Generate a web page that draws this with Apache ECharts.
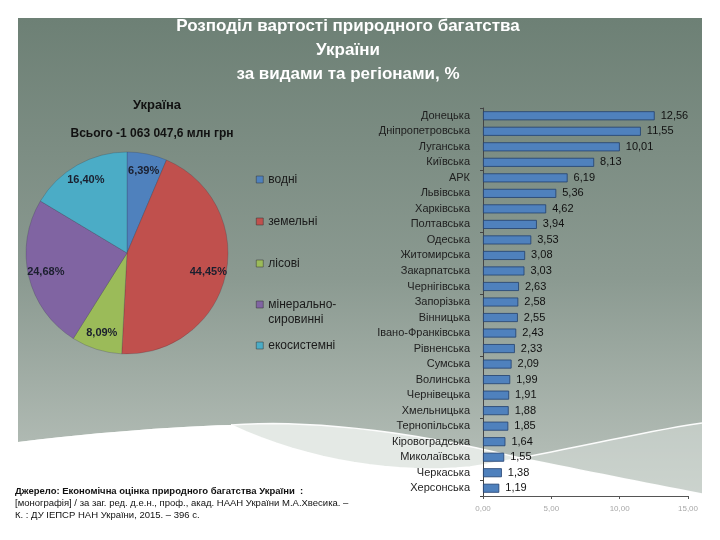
<!DOCTYPE html>
<html>
<head>
<meta charset="utf-8">
<script src="https://cdn.jsdelivr.net/npm/echarts@6/dist/echarts.min.js"></script>
<style>html,body{margin:0;padding:0;background:#fff}#c{width:720px;height:540px}</style>
</head>
<body>
<div id="c"></div>
<script>
// ---- data ----
const pieNames = ['водні', 'земельні', 'лісові', 'мінерально-сировинні', 'екосистемні'];
const pieValues = [6.39, 44.45, 8.09, 24.68, 16.40];
const pieColors = ['#4f81bd', '#c0504d', '#9bbb59', '#8064a2', '#4bacc6'];

const regions = ['Донецька', 'Дніпропетровська', 'Луганська', 'Київська', 'АРК', 'Львівська', 'Харківська',
  'Полтавська', 'Одеська', 'Житомирська', 'Закарпатська', 'Чернігівська', 'Запорізька', 'Вінницька',
  'Івано-Франківська', 'Рівненська', 'Сумська', 'Волинська', 'Чернівецька', 'Хмельницька',
  'Тернопільська', 'Кіровоградська', 'Миколаївська', 'Черкаська', 'Херсонська'];
const regionValues = [12.56, 11.55, 10.01, 8.13, 6.19, 5.36, 4.62, 3.94, 3.53, 3.08, 3.03, 2.63, 2.58,
  2.55, 2.43, 2.33, 2.09, 1.99, 1.91, 1.88, 1.85, 1.64, 1.55, 1.38, 1.19];
const xTicks = [0, 5, 10, 15];

const titleText = 'Розподіл вартості природного багатства\nУкраїни\nза видами та регіонами, %';
const pieTitle = 'Україна';
const pieSubtitle = 'Всього -1 063 047,6 млн грн';
const sourceLines = ['Джерело: Економічна оцінка природного багатства України  :',
  '[монографія] / за заг. ред. д.е.н., проф., акад. НААН України М.А.Хвесика. –',
  'К. : ДУ ІЕПСР НАН України, 2015. – 396 с.'];

const legendTops = [172, 214, 256, 282, 338];
const comma = v => v.toFixed(2).replace('.', ',');
const font = '"Liberation Sans", Arial, sans-serif';

// ---- decorative background curves (slide template) ----
function bez(p0, p1, p2, p3, n) {
  const pts = [];
  for (let i = 0; i <= n; i++) {
    const t = i / n, u = 1 - t;
    pts.push([u*u*u*p0[0] + 3*u*u*t*p1[0] + 3*u*t*t*p2[0] + t*t*t*p3[0],
              u*u*u*p0[1] + 3*u*u*t*p1[1] + 3*u*t*t*p2[1] + t*t*t*p3[1]]);
  }
  return pts;
}
const leftB = bez([18, 442], [100, 432], [180, 426], [231, 425], 12);
const sSeg1 = bez([231, 425], [310, 462], [400, 474], [470, 467], 16);
const sSeg2 = bez([470, 467], [560, 452], [640, 432], [702, 423], 16);
const dSeg1 = bez([231, 425], [300, 420], [400, 428], [520, 458], 16);
const dSeg2 = bez([520, 458], [590, 472], [640, 482], [702, 494], 16);
const sRight = sSeg2.filter(p => p[0] >= 520);
const bottom = [[702, 540], [18, 540]];

const chart = echarts.init(document.getElementById('c'), null, {renderer: 'canvas'});

const option = {
  animation: false,
  textStyle: {fontFamily: font},
  graphic: [
    {type: 'rect', z: -10, shape: {x: 18, y: 18, width: 684, height: 522},
      style: {fill: new echarts.graphic.LinearGradient(0, 0, 0, 1, [
        {offset: 0, color: '#6d8075'}, {offset: 0.5, color: '#8b9a91'}, {offset: 0.82, color: '#b0bab3'}, {offset: 1, color: '#c6ccc7'}])}},
    {type: 'polygon', z: -9, shape: {points: leftB.concat(dSeg1, dSeg2, bottom)},
      style: {fill: '#e4e9e5'}},
    {type: 'polygon', z: -9, shape: {points: sRight.concat(dSeg2.slice().reverse())},
      style: {fill: 'rgba(225,231,226,0.45)'}},
    {type: 'polygon', z: -8, shape: {points: leftB.concat(sSeg1, [[520, 458]], dSeg2, bottom)},
      style: {fill: '#ffffff'}},
    {type: 'polyline', z: -7, shape: {points: sSeg1.concat(sSeg2)},
      style: {stroke: 'rgba(255,255,255,0.95)', lineWidth: 1.5}},
    {type: 'polyline', z: -7, shape: {points: dSeg1.concat(dSeg2)},
      style: {stroke: 'rgba(255,255,255,0.95)', lineWidth: 1.5}}
  ],
  title: [
    {text: titleText, left: 348, top: 14, textAlign: 'center', padding: 0,
      textStyle: {color: '#ffffff', fontSize: 17, fontWeight: 'bold', lineHeight: 24, fontFamily: font}},
    {text: pieTitle, left: 157, top: 99, textAlign: 'center', padding: 0,
      textStyle: {color: '#111', fontSize: 13, fontWeight: 'bold', fontFamily: font}},
    {text: pieSubtitle, left: 152, top: 128, textAlign: 'center', padding: 0,
      textStyle: {color: '#111', fontSize: 12, fontWeight: 'bold', fontFamily: font}},
    {text: '{b|' + sourceLines[0] + '}\n{n|' + sourceLines[1] + '}\n{n|' + sourceLines[2] + '}',
      left: 15, top: 485, padding: 0,
      textStyle: {fontWeight: 'normal', rich: {
        b: {fontSize: 9.5, fontWeight: 'bold', color: '#111', lineHeight: 12, fontFamily: font},
        n: {fontSize: 9.5, fontWeight: 'normal', color: '#111', lineHeight: 12, fontFamily: font}}}}
  ],
  legend: pieNames.map((n, i) => ({
    data: [n], left: 256, top: legendTops[i], orient: 'vertical', padding: 0,
    icon: 'rect', itemWidth: 7, itemHeight: 7, itemGap: 0,
    itemStyle: {borderColor: '#333', borderWidth: 0.5},
    formatter: name => name === 'мінерально-сировинні' ? ' \nмінерально-\nсировинні' : name,
    textStyle: {color: '#1a1a1a', fontSize: 12, lineHeight: 15, fontFamily: font}
  })),
  grid: {left: 483, right: 32, top: 108, bottom: 44, containLabel: false},
  xAxis: {type: 'value', min: 0, max: 15, interval: 5,
    axisLine: {show: true, lineStyle: {color: '#555', width: 1}},
    axisTick: {show: true, length: 3, lineStyle: {color: '#555'}},
    splitLine: {show: false},
    axisLabel: {formatter: v => comma(v), color: '#a8a8a8', fontSize: 8, margin: 9}},
  yAxis: {type: 'category', data: regions, inverse: true,
    axisLine: {show: true, lineStyle: {color: '#444', width: 1}},
    axisTick: {show: true, length: 3, interval: 3, lineStyle: {color: '#444'}},
    axisLabel: {color: '#1e1e1e', fontSize: 11, margin: 13, fontFamily: font, interval: 0}},
  series: [
    {type: 'pie', center: [127, 253], radius: [0, 101], startAngle: 90, clockwise: true,
      data: pieNames.map((n, i) => ({name: n, value: pieValues[i], itemStyle: {color: pieColors[i]}})),
      label: {show: false}, labelLine: {show: false},
      itemStyle: {borderColor: 'rgba(40,40,60,0.35)', borderWidth: 0.6}},
    {type: 'pie', center: [127, 253], radius: [60, 101], startAngle: 90, clockwise: true, silent: true,
      data: pieNames.map((n, i) => ({name: n, value: pieValues[i]})),
      itemStyle: {color: 'rgba(0,0,0,0)'}, labelLine: {show: false},
      label: {show: true, position: 'inside', formatter: p => comma(p.value) + '%',
        color: '#1b1f2e', fontSize: 11, fontWeight: 'bold', fontFamily: font}},
    {type: 'bar', data: regionValues, barWidth: 9,
      itemStyle: {color: '#4f81bd', borderColor: '#22406e', borderWidth: 0.8},
      label: {show: true, position: 'right', distance: 6, formatter: p => comma(p.value),
        color: '#111', fontSize: 11, fontFamily: font}}
  ]
};
chart.setOption(option);
</script>
</body>
</html>
